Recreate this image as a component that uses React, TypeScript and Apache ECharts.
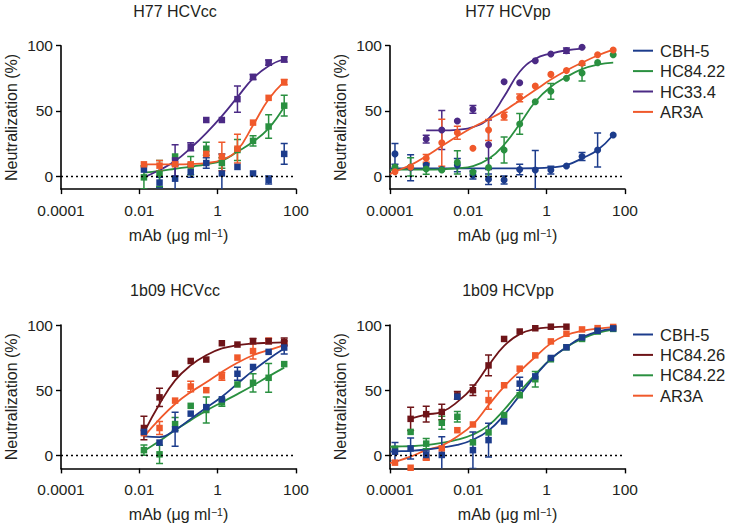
import React, { useEffect, useRef } from "react";
import * as echarts from "echarts";

// ---------- data ----------
const ccConc = [0.0131, 0.0328, 0.0819, 0.205, 0.512, 1.28, 3.2, 8, 20, 50];
const ppConc = [0.000134, 0.000336, 0.00084, 0.0021, 0.00524, 0.0131, 0.0328, 0.0819, 0.205, 0.512, 1.28, 3.2, 8, 20, 50];
const ppCurveConc = [0.0001, 0.000134, 0.000336, 0.00084, 0.0021, 0.00524, 0.0131, 0.0328, 0.0819, 0.205, 0.512, 1.28, 3.2, 8, 20, 50];

const xTickValues = [0.0001, 0.01, 1, 100];
const xTickLabels = ["0.0001", "0.01", "1", "100"];
const yTickValues = [0, 50, 100];

const panelTitles = ["H77 HCVcc", "H77 HCVpp", "1b09 HCVcc", "1b09 HCVpp"];
const legendTop = ["CBH-5", "HC84.22", "HC33.4", "AR3A"];
const legendBottom = ["CBH-5", "HC84.26", "HC84.22", "AR3A"];

// Panel A: H77 HCVcc
const aCbh5 = [5, -5, -2, 3, 10, 2, 7, 2, -3, 17];
const aCbh5Err = [0, 4, 10, 4, 4, 15, 0, 0, 3, 8];
const aHc8422 = [-1, 2, 15, 8, 21, 10, 20, 27, 38, 54];
const aHc8422Err = [9, 10, 0, 7, 5, 4, 8, 4, 9, 8];
const aHc8422Fit = [2.6, 4, 5.6, 7.2, 9, 11.8, 18.7, 26.3, 36.6, 53.2];
const aHc334 = [null, null, 12, 22.5, 43, 43, 59, 76, 87, 89.5];
const aHc334Err = [0, 0, 12, 3, 0, 0, 10, 2, 2, 2];
const aHc334Fit = [-1, 4.6, 11.5, 21.5, 33, 46, 60.5, 75, 84.5, 89.8];
const aAr3a = [9, 8, 9, 9, 17, 15, 21, 41, 60, 72];
const aAr3aErr = [0, 4, 0, 0, 0, 11, 11, 0, 0, 2];
const aAr3aFit = [9, 9, 9, 9.2, 10, 12.5, 20, 39, 59, 72.5];

// Panel B: H77 HCVpp
const bCbh5 = [17, 6.4, 8.4, 5.1, 8.4, 0.8, -2.5, -3, 5.1, 4.6, 4.6, 7.7, 15, 20, 31.5];
const bCbh5Err = [8, 10, 0, 0, 5, 3, 4, 3, 4, 15, 3, 0, 3, 13, 0];
const bCbh5Fit = [5.9, 5.9, 5.9, 5.9, 5.9, 5.9, 5.9, 5.9, 5.9, 5.9, 6, 6.6, 8.4, 13.6, 20, 31.5];
const bHc8422 = [7, 7, 5.4, 4.6, 10.5, 3, 6.6, 20, 40, 57, 65, 75, 79, 87, 93];
const bHc8422Err = [0, 7, 4, 0, 9, 0, 7, 10, 8, 0, 6, 0, 6, 0, 0];
const bHc8422Fit = [4.6, 5, 5, 5, 5.2, 6, 7.7, 13, 24, 40, 57, 68.5, 76, 82, 85.5, 87];
const bHc334 = [null, null, 28.4, 35.3, 42.2, 51.2, 24, 72.4, 71.6, 88.5, 93.6, 96.2, 98.8, null, null];
const bHc334Err = [0, 0, 3, 15, 0, 3, 19, 0, 0, 0, 0, 2, 0, 0, 0];
const bHc334Fit = [null, null, null, 35, 35, 35.5, 37.5, 44, 61, 80, 90, 94, 96.5, 97.7, null, null];
const bAr3a = [3.3, 7, 13.6, 25.6, 33.2, 21.3, 35.3, 46, 60, 69, 78, 81, 86.5, 93, 96.7];
const bAr3aErr = [0, 0, 3, 18, 5, 0, 8, 3, 3, 0, 0, 0, 0, 0, 0];
const bAr3aFit = [1.5, 3.5, 8.4, 15.3, 23, 30.5, 37.5, 43.5, 50, 58, 66, 74, 81, 87, 92.5, 97];

// Panel C: 1b09 HCVcc
const cCbh5 = [18, 9.8, 20, 32, 37, 43, 62.6, 67.8, 79.4, 82.7];
const cCbh5Err = [0, 0, 13, 0, 0, 0, 5, 0, 0, 5];
const cCbh5Fit = [14.5, 14, 19.5, 28, 36.5, 45, 55, 65, 74, 82];
const cHc8426 = [21, 44.5, 62.6, 72.4, 73.5, 86, 85, 87.6, 87.6, 87];
const cHc8426Err = [9, 7, 0, 0, 0, 0, 0, 2, 2, 3];
const cHc8426Fit = [17.5, 39.4, 57.5, 69, 76.8, 82, 84.5, 85.8, 86.3, 86.6];
const cHc8422 = [4, 0.8, 24, 38, 34.8, 40.7, 54.4, 55.7, 59.5, 70];
const cHc8422Err = [4, 7, 5, 0, 10, 3, 0, 7, 11, 0];
const cHc8422Fit = [3.4, 11, 19.3, 27, 34.3, 40.7, 47, 53.6, 60.6, 67.3];
const cAr3a = [17, 21, 42, 52.8, 50, 60.6, 75, 80, 88, 86];
const cAr3aErr = [0, 5, 0, 4, 0, 3, 0, 6, 0, 0];
const cAr3aFit = [14.4, 27.8, 39.4, 48.5, 56, 64, 71, 76.8, 80.7, 84.5];

// Panel D: 1b09 HCVpp
const dCbh5 = [2.8, 5.3, 0.3, 0.3, 45, 4, 11.7, 26, 55, 60.6, 74.7, 82.9, 90.5, 95.6, 97.4];
const dCbh5Err = [7, 8, 3, 14, 0, 14, 13, 0, 5, 0, 0, 0, 0, 0, 0];
const dCbh5Fit = [2.8, 3, 3.5, 4.5, 6, 8, 12, 19, 31, 46, 61, 74, 83, 90.5, 95, 97];
const dHc8426 = [null, 28, 31.6, 33.3, 46, 50, 69, 89.3, 95, 97.5, 98.7, 98.7, null, null, null];
const dHc8426Err = [0, 9, 6, 6, 3, 4, 8, 0, 0, 0, 0, 0, 0, 0, 0];
const dHc8426Fit = [null, null, 28.2, 31.3, 33.3, 41, 52.4, 69, 84, 93, 96.9, 98.2, 98.7, null, null, null];
const dHc8422 = [5, 18, 9, 25, 29.6, 10, 17.6, 30.9, 46.1, 58.4, 73.7, 82.9, 89.3, 95, 97];
const dHc8422Err = [0, 0, 4, 5, 4, 0, 0, 0, 0, 6, 0, 0, 0, 0, 0];
const dHc8422Fit = [6.6, 6.8, 7, 7.8, 9.5, 12, 16, 23, 35, 49, 62, 74, 83, 89.5, 94, 96.5];
const dAr3a = [-5.6, -9.5, -1.8, 5.3, 19.3, 23.7, 42.4, 53.8, 66.5, 76.7, 87.4, 93.3, 96.6, 97.6, 98.5];
const dAr3aErr = [0, 0, 2, 0, 0, 0, 7, 0, 0, 0, 0, 0, 0, 0, 0];
const dAr3aFit = [-5.9, -4.9, -1, 4, 7.5, 14.5, 23.7, 38.5, 52.7, 64.5, 75.5, 85.9, 92.3, 95.5, 97.2, 98.3];

// ---------- styles ----------
const COLORS: Record<string, string> = {
  "CBH-5": "#1c3c8c",
  "HC84.22": "#2a9040",
  "HC33.4": "#4b2a85",
  "AR3A": "#f0592b",
  "HC84.26": "#6e1418",
};
const FONT = "'Liberation Sans', Arial, Helvetica, sans-serif";
const TXT = "#231f20";

type SeriesDef = { name: string; pts: (number | null)[]; err: number[]; fit?: (number | null)[] };
type PanelDef = { title: string; conc: number[]; curveConc: number[]; symbol: string; size: number; series: SeriesDef[] };

const panels: PanelDef[] = [
  {
    title: panelTitles[0], conc: ccConc, curveConc: ccConc, symbol: "rect", size: 6.5,
    series: [
      { name: "CBH-5", pts: aCbh5, err: aCbh5Err },
      { name: "HC84.22", pts: aHc8422, err: aHc8422Err, fit: aHc8422Fit },
      { name: "HC33.4", pts: aHc334, err: aHc334Err, fit: aHc334Fit },
      { name: "AR3A", pts: aAr3a, err: aAr3aErr, fit: aAr3aFit },
    ],
  },
  {
    title: panelTitles[1], conc: ppConc, curveConc: ppCurveConc, symbol: "circle", size: 7,
    series: [
      { name: "CBH-5", pts: bCbh5, err: bCbh5Err, fit: bCbh5Fit },
      { name: "HC84.22", pts: bHc8422, err: bHc8422Err, fit: bHc8422Fit },
      { name: "HC33.4", pts: bHc334, err: bHc334Err, fit: bHc334Fit },
      { name: "AR3A", pts: bAr3a, err: bAr3aErr, fit: bAr3aFit },
    ],
  },
  {
    title: panelTitles[2], conc: ccConc, curveConc: ccConc, symbol: "rect", size: 6.5,
    series: [
      { name: "HC84.22", pts: cHc8422, err: cHc8422Err, fit: cHc8422Fit },
      { name: "AR3A", pts: cAr3a, err: cAr3aErr, fit: cAr3aFit },
      { name: "HC84.26", pts: cHc8426, err: cHc8426Err, fit: cHc8426Fit },
      { name: "CBH-5", pts: cCbh5, err: cCbh5Err, fit: cCbh5Fit },
    ],
  },
  {
    title: panelTitles[3], conc: ppConc, curveConc: ppCurveConc, symbol: "rect", size: 6.5,
    series: [
      { name: "HC84.22", pts: dHc8422, err: dHc8422Err, fit: dHc8422Fit },
      { name: "AR3A", pts: dAr3a, err: dAr3aErr, fit: dAr3aFit },
      { name: "HC84.26", pts: dHc8426, err: dHc8426Err, fit: dHc8426Fit },
      { name: "CBH-5", pts: dCbh5, err: dCbh5Err, fit: dCbh5Fit },
    ],
  },
];

// layout
const GRID_LEFT = [61, 390, 61, 390];
const GRID_TOP = [45.7, 45.7, 325, 325];
const GRID_W = 235;
const GRID_H = 143.4;
const TITLE_X = [175, 508, 175, 508];
const TITLE_Y = [11, 11, 290, 290];

function buildOption() {
  const grid: any[] = [];
  const xAxis: any[] = [];
  const yAxis: any[] = [];
  const series: any[] = [];
  const graphic: any[] = [];

  panels.forEach((p, i) => {
    grid.push({ left: GRID_LEFT[i], top: GRID_TOP[i], width: GRID_W, height: GRID_H, containLabel: false });
    xAxis.push({
      type: "value",
      gridIndex: i,
      min: -4,
      max: 2,
      interval: 2,
      axisLine: { onZero: false, lineStyle: { color: "#000", width: 1.6 } },
      axisTick: { show: true, length: 5, lineStyle: { color: "#000", width: 1.4 } },
      splitLine: { show: false },
      axisLabel: {
        margin: 13,
        fontSize: 15.5,
        fontFamily: FONT,
        color: TXT,
        showMinLabel: true,
        showMaxLabel: true,
        formatter: (v: number) => {
          const k = xTickValues.findIndex((t) => Math.abs(Math.log10(t) - v) < 1e-6);
          return k >= 0 ? xTickLabels[k] : "";
        },
      },
      name: "mAb (μg ml{sup|−1})",
      nameLocation: "middle",
      nameGap: 38,
      nameTextStyle: {
        fontSize: 16,
        fontFamily: FONT,
        color: TXT,
        rich: { sup: { fontSize: 10.5, fontFamily: FONT, color: TXT, verticalAlign: "top", lineHeight: 10 } },
      },
    });
    yAxis.push({
      type: "value",
      gridIndex: i,
      min: -10,
      max: 100,
      axisLine: { onZero: false, lineStyle: { color: "#000", width: 1.6 } },
      axisTick: { show: true, length: 5, customValues: yTickValues, lineStyle: { color: "#000", width: 1.4 } },
      splitLine: { show: false },
      axisLabel: { customValues: yTickValues, margin: 8, fontSize: 15.5, fontFamily: FONT, color: TXT },
      name: "Neutralization (%)",
      nameLocation: "middle",
      nameGap: 42,
      nameTextStyle: { fontSize: 16, fontFamily: FONT, color: TXT },
    });

    // zero reference line
    series.push({
      type: "line",
      xAxisIndex: i,
      yAxisIndex: i,
      data: [],
      silent: true,
      markLine: {
        silent: true,
        symbol: "none",
        label: { show: false },
        lineStyle: { color: "#000", type: [2, 3], width: 1.4 },
        data: [{ yAxis: 0 }],
      },
    });

    p.series.forEach((s) => {
      const color = COLORS[s.name];
      if (s.fit) {
        const curveData: number[][] = [];
        p.curveConc.forEach((c, k) => {
          const v = s.fit![k];
          if (v !== null && v !== undefined) curveData.push([Math.log10(c), v]);
        });
        series.push({
          type: "line",
          name: s.name,
          xAxisIndex: i,
          yAxisIndex: i,
          data: curveData,
          smooth: 0.45,
          symbol: "none",
          showSymbol: false,
          clip: true,
          silent: true,
          color,
          lineStyle: { color, width: 1.8 },
          z: 2,
        });
      }
      const ptData: number[][] = [];
      const errData: number[][] = [];
      p.conc.forEach((c, k) => {
        const v = s.pts[k];
        if (v === null || v === undefined) return;
        ptData.push([Math.log10(c), v]);
        if (s.err[k] > 0) errData.push([Math.log10(c), v, s.err[k]]);
      });
      series.push({
        type: "custom",
        name: s.name,
        xAxisIndex: i,
        yAxisIndex: i,
        data: errData,
        clip: true,
        silent: true,
        z: 3,
        renderItem: (params: any, api: any) => {
          const x = api.value(0);
          const y = api.value(1);
          const e = api.value(2);
          const top = api.coord([x, y + e]);
          const bot = api.coord([x, y - e]);
          const w = 3.5;
          const st = { stroke: color, lineWidth: 1.5 };
          return {
            type: "group",
            children: [
              { type: "line", shape: { x1: top[0], y1: top[1], x2: bot[0], y2: bot[1] }, style: st },
              { type: "line", shape: { x1: top[0] - w, y1: top[1], x2: top[0] + w, y2: top[1] }, style: st },
              { type: "line", shape: { x1: bot[0] - w, y1: bot[1], x2: bot[0] + w, y2: bot[1] }, style: st },
            ],
          };
        },
      });
      series.push({
        type: "scatter",
        name: s.name,
        xAxisIndex: i,
        yAxisIndex: i,
        data: ptData,
        symbol: p.symbol,
        symbolSize: p.size,
        clip: true,
        silent: true,
        itemStyle: { color, opacity: 1 },
        z: 4,
      });
    });

    graphic.push({
      type: "text",
      x: TITLE_X[i],
      y: TITLE_Y[i],
      style: { text: p.title, fontSize: 16, fontFamily: FONT, fill: TXT, textAlign: "center", textVerticalAlign: "middle" },
    });
  });

  // legends
  const legends = [
    { names: legendTop, y0: 50.7 },
    { names: legendBottom, y0: 334.5 },
  ];
  legends.forEach((lg) => {
    lg.names.forEach((n, k) => {
      const y = lg.y0 + k * 20.4;
      graphic.push({ type: "line", shape: { x1: 633, y1: y, x2: 653, y2: y }, style: { stroke: COLORS[n], lineWidth: 2 } });
      graphic.push({
        type: "text",
        x: 660,
        y,
        style: { text: n, fontSize: 16.5, fontFamily: FONT, fill: TXT, textAlign: "left", textVerticalAlign: "middle" },
      });
    });
  });

  return {
    animation: false,
    backgroundColor: "#ffffff",
    textStyle: { fontFamily: FONT },
    grid,
    xAxis,
    yAxis,
    series,
    graphic,
  };
}

export default function App() {
  const ref = useRef<HTMLDivElement>(null);
  useEffect(() => {
    if (!ref.current) return;
    const chart = echarts.init(ref.current, undefined, { renderer: "svg" });
    chart.setOption(buildOption() as any);
    return () => chart.dispose();
  }, []);
  return <div ref={ref} style={{ position: "absolute", left: 0, top: 0, width: 732, height: 526 }} />;
}
